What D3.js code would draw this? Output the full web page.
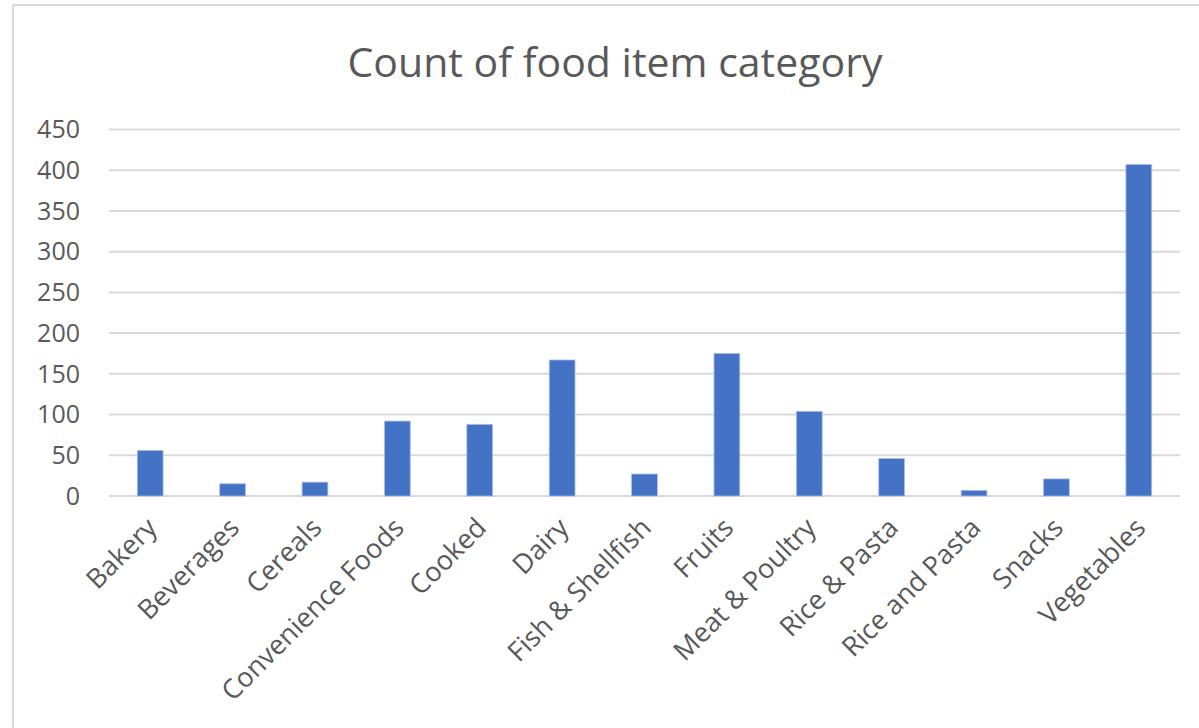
<!DOCTYPE html>
<html lang="en">
<head>
  <meta charset="UTF-8">
  <title>Count of food item category</title>
  <script src="https://d3js.org/d3.v7.min.js"></script>
  <style>
      body {
          margin: 0;
          padding: 0;
          background: #fff;
          overflow: hidden;
      }
      svg {
          display: block;
          font-family: 'Open Sans', sans-serif;
      }
  </style>
</head>
<body>
  <svg width="1199" height="728"></svg>
  <script>
      // chart data
      const categories = ["Bakery", "Beverages", "Cereals", "Convenience Foods", "Cooked", "Dairy",
          "Fish & Shellfish", "Fruits", "Meat & Poultry", "Rice & Pasta", "Rice and Pasta", "Snacks", "Vegetables"];
      const counts = [56, 15, 17, 92, 88, 167, 27, 175, 104, 46, 7, 21, 407];
      const yTicks = [0, 50, 100, 150, 200, 250, 300, 350, 400, 450];
      const title = "Count of food item category";

      const svg = d3.select("svg");
      const textColor = "#595959";
      const gridColor = "#d9d9d9";

      // chart frame (only top and left edges are visible)
      svg.append("line").attr("x1", 13).attr("x2", 1199).attr("y1", 5).attr("y2", 5)
          .attr("stroke", gridColor).attr("stroke-width", 2);
      svg.append("line").attr("x1", 13).attr("x2", 13).attr("y1", 5).attr("y2", 728)
          .attr("stroke", gridColor).attr("stroke-width", 2);

      const plotLeft = 109, plotRight = 1180, plotTop = 129.5, plotBottom = 496;

      const x = d3.scaleBand()
          .domain(categories)
          .range([plotLeft, plotRight])
          .paddingInner(0.687)
          .paddingOuter(0.687 / 2);

      const y = d3.scaleLinear()
          .domain([0, 450])
          .range([plotBottom, plotTop]);

      // gridlines
      svg.append("g")
          .selectAll("line")
          .data(yTicks)
          .join("line")
          .attr("x1", plotLeft)
          .attr("x2", plotRight)
          .attr("y1", d => y(d))
          .attr("y2", d => y(d))
          .attr("stroke", gridColor)
          .attr("stroke-width", 2);

      // y axis labels
      svg.append("g")
          .selectAll("text")
          .data(yTicks)
          .join("text")
          .attr("x", 80)
          .attr("y", d => y(d))
          .attr("dy", "0.35em")
          .attr("text-anchor", "end")
          .attr("font-size", "25px")
          .attr("fill", textColor)
          .text(d => d);

      // bars
      svg.append("g")
          .selectAll("rect")
          .data(categories)
          .join("rect")
          .attr("x", d => x(d))
          .attr("width", x.bandwidth())
          .attr("y", (d, i) => y(counts[i]))
          .attr("height", (d, i) => y(0) - y(counts[i]))
          .attr("fill", "#4472c4")
          .attr("stroke", "#a9bfe6")
          .attr("stroke-width", 0.8);

      // x axis labels, rotated
      svg.append("g")
          .selectAll("text")
          .data(categories)
          .join("text")
          .attr("transform", d => `translate(${x(d) + x.bandwidth() / 2 - 6}, 515) rotate(-45)`)
          .attr("dy", "0.75em")
          .attr("text-anchor", "end")
          .attr("font-size", "27px")
          .attr("fill", textColor)
          .text(d => d);

      // title
      svg.append("text")
          .attr("x", 615)
          .attr("y", 77)
          .attr("text-anchor", "middle")
          .attr("font-size", "41px")
          .attr("fill", textColor)
          .text(title);
  </script>
</body>
</html>
